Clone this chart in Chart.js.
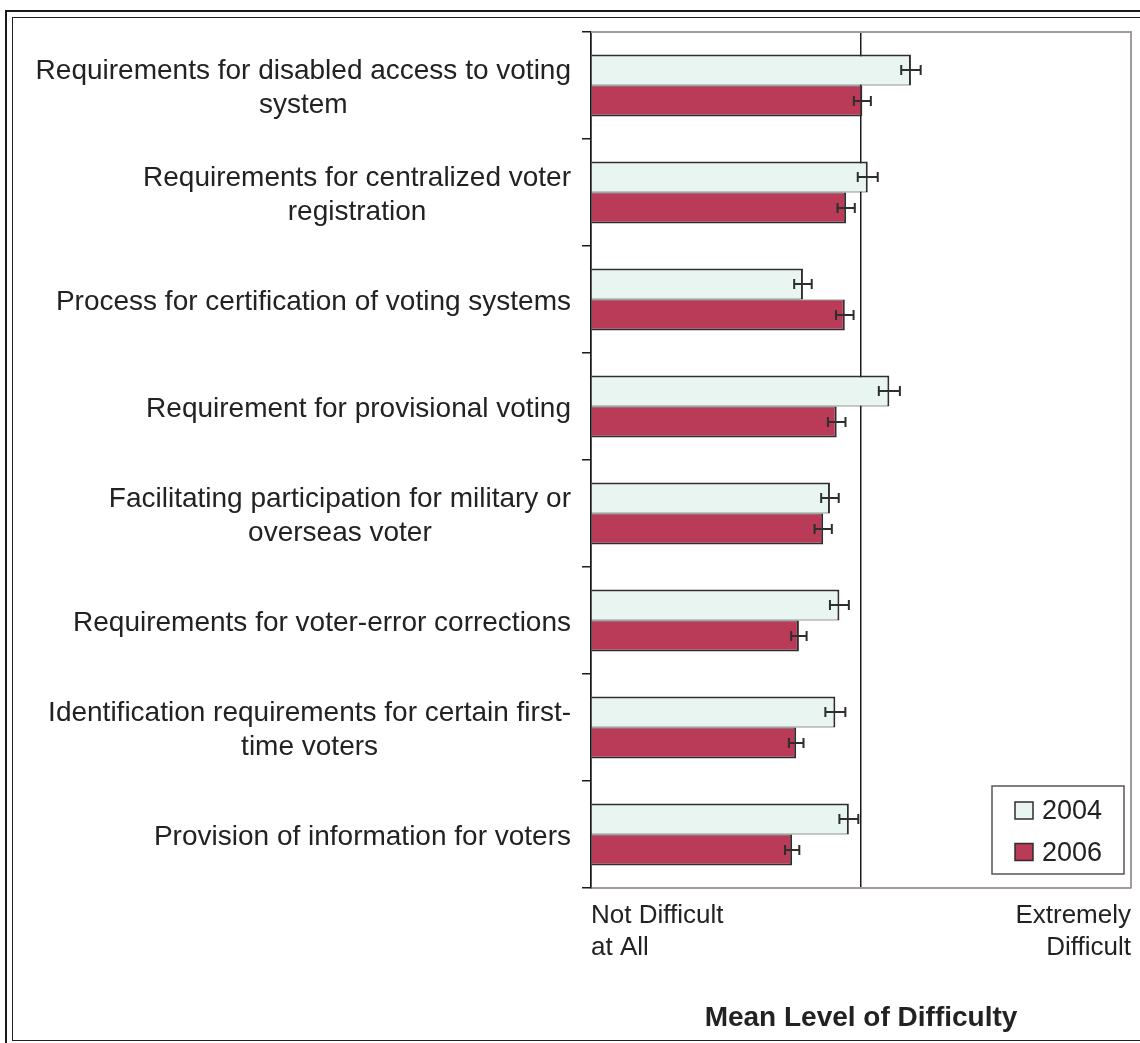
<!DOCTYPE html>
<html lang="en">
  <head>
    <meta charset="UTF-8" />
    <title>Mean Level of Difficulty</title>
    <script src="https://cdn.jsdelivr.net/npm/chart.js"></script>
    <style>
      body { margin: 0; background: #fff; overflow: hidden; }
      #wrap { position: relative; width: 1140px; height: 1043px; overflow: hidden; }
      .outer { position: absolute; left: 5px; top: 10px; width: 1300px; height: 1200px;
               border-left: 2.5px solid #1a1a1a; border-top: 2.5px solid #1a1a1a; }
      .inner { position: absolute; left: 12px; top: 17px; width: 1300px; height: 1022px;
               border-left: 1.5px solid #222; border-top: 1.5px solid #222; border-bottom: 1.5px solid #222; }
      canvas { position: absolute; left: 0; top: 0; }
    </style>
  </head>
  <body>
    <div id="wrap">
      <div class="outer"></div>
      <div class="inner"></div>
      <canvas id="difficultyChart" width="1140" height="1043"></canvas>
    </div>

    <script>
      // categories (each entry = lines of the wrapped label)
      const categories = [
        ["Requirements for disabled access to voting", "system"],
        ["Requirements for centralized voter", "registration"],
        ["Process for certification of voting systems"],
        ["Requirement for provisional voting"],
        ["Facilitating participation for military or", "overseas voter"],
        ["Requirements for voter-error corrections"],
        ["Identification requirements for certain first-", "time voters"],
        ["Provision of information for voters"],
      ];

      const seriesNames = ["2004", "2006"];
      const values2004 = [3.37, 3.05, 2.57, 3.21, 2.77, 2.84, 2.81, 2.91];
      const values2006 = [3.01, 2.89, 2.88, 2.82, 2.72, 2.54, 2.52, 2.49];
      const errors2004 = [0.072, 0.074, 0.065, 0.078, 0.065, 0.07, 0.074, 0.07];
      const errors2006 = [0.063, 0.064, 0.065, 0.065, 0.064, 0.057, 0.054, 0.053];

      const xTickValues = [1, 3, 5];
      const xTickLabels = [["Not Difficult", "at All"], "", ["Extremely", "Difficult"]];
      const xTitle = "Mean Level of Difficulty";

      const FONT = '"Liberation Sans", Arial, sans-serif';
      const TEXT = "#222";
      const FRAME = "#a39a9a";
      const EDGE = "#2e2e2e";

      // error bars, drawn from the bar elements and the x scale
      const errorBars = {
        id: "errorBars",
        afterDatasetsDraw(chart) {
          const ctx = chart.ctx;
          const x = chart.scales.x;
          const errs = [errors2004, errors2006];
          ctx.save();
          ctx.strokeStyle = EDGE;
          ctx.lineWidth = 2;
          chart.data.datasets.forEach((ds, d) => {
            chart.getDatasetMeta(d).data.forEach((bar, i) => {
              const lo = x.getPixelForValue(ds.data[i] - errs[d][i]);
              const hi = x.getPixelForValue(ds.data[i] + errs[d][i]);
              const y = bar.y;
              ctx.beginPath();
              ctx.moveTo(lo, y); ctx.lineTo(hi, y);
              ctx.moveTo(lo, y - 5); ctx.lineTo(lo, y + 5);
              ctx.moveTo(hi, y - 5); ctx.lineTo(hi, y + 5);
              ctx.stroke();
            });
          });
          ctx.restore();
        },
      };

      // wrapped category labels: block right-aligned, lines centred in the block
      const categoryLabels = {
        id: "categoryLabels",
        afterDraw(chart) {
          const ctx = chart.ctx;
          const y = chart.scales.y;
          const right = chart.chartArea.left - 20;
          ctx.save();
          ctx.font = "28px " + FONT;
          ctx.fillStyle = TEXT;
          ctx.textAlign = "center";
          ctx.textBaseline = "alphabetic";
          categories.forEach((lines, i) => {
            const cy = y.getPixelForValue(i);
            const w = Math.max(...lines.map((l) => ctx.measureText(l).width));
            const cx = right - w / 2;
            lines.forEach((line, k) => {
              ctx.fillText(line, cx, cy + 10 + (k - (lines.length - 1) / 2) * 34);
            });
          });
          ctx.restore();
        },
      };

      // grey top/right frame of the plot area
      const plotFrame = {
        id: "plotFrame",
        beforeDatasetsDraw(chart) {
          const { left, right, top, bottom } = chart.chartArea;
          const ctx = chart.ctx;
          ctx.save();
          ctx.strokeStyle = FRAME;
          ctx.lineWidth = 2;
          ctx.beginPath();
          ctx.moveTo(left, top);
          ctx.lineTo(right, top);
          ctx.lineTo(right, bottom);
          ctx.stroke();
          ctx.restore();
        },
      };

      // boxed legend in the lower right corner of the plot
      const boxLegend = {
        id: "boxLegend",
        afterDraw(chart) {
          const ctx = chart.ctx;
          const bx = 992, by = 786, bw = 132, bh = 88;
          ctx.save();
          ctx.fillStyle = "#fff";
          ctx.fillRect(bx, by, bw, bh);
          ctx.strokeStyle = "#555";
          ctx.lineWidth = 1.5;
          ctx.strokeRect(bx, by, bw, bh);
          ctx.font = "27px " + FONT;
          ctx.textBaseline = "alphabetic";
          ctx.textAlign = "left";
          chart.data.datasets.forEach((ds, d) => {
            const sy = by + 16 + d * 41.5;
            ctx.fillStyle = ds.backgroundColor;
            ctx.fillRect(bx + 23, sy, 18, 17);
            ctx.strokeStyle = EDGE;
            ctx.lineWidth = 1.5;
            ctx.strokeRect(bx + 23, sy, 18, 17);
            ctx.fillStyle = TEXT;
            ctx.fillText(ds.label, bx + 50, sy + 17);
          });
          ctx.restore();
        },
      };

      const ctx = document.getElementById("difficultyChart").getContext("2d");
      new Chart(ctx, {
        type: "bar",
        data: {
          labels: categories,
          datasets: [
            {
              label: seriesNames[0],
              data: values2004,
              base: 1,
              backgroundColor: "#e8f5f1",
              borderColor: EDGE,
              borderWidth: { top: 2, right: 2, bottom: 1, left: 0 },
              borderSkipped: false,
              barPercentage: 1,
              categoryPercentage: 0.58,
            },
            {
              label: seriesNames[1],
              data: values2006,
              base: 1,
              backgroundColor: "#b93b58",
              borderColor: EDGE,
              borderWidth: { top: 1, right: 2, bottom: 2, left: 0 },
              borderSkipped: false,
              barPercentage: 1,
              categoryPercentage: 0.58,
            },
          ],
        },
        options: {
          indexAxis: "y",
          responsive: false,
          animation: false,
          layout: { padding: { top: 32, right: 9, left: 0, bottom: 0 } },
          plugins: {
            legend: { display: false },
            tooltip: { enabled: false },
          },
          scales: {
            x: {
              type: "linear",
              min: 1,
              max: 5,
              afterBuildTicks: (scale) => {
                scale.ticks = xTickValues.map((v) => ({ value: v }));
              },
              afterFit: (scale) => {
                scale.height = 155;
                scale.paddingLeft = 0;
                scale.paddingRight = 0;
              },
              ticks: {
                autoSkip: false,
                maxRotation: 0,
                align: "inner",
                padding: 12,
                color: TEXT,
                font: { family: FONT, size: 26, lineHeight: 1.23 },
                callback: (v, i) => xTickLabels[i],
              },
              grid: {
                drawTicks: false,
                color: (c) => (c.tick && c.tick.value === 5 ? FRAME : "#1a1a1a"),
                lineWidth: 1.5,
              },
              border: { color: FRAME, width: 2 },
              title: {
                display: true,
                text: xTitle,
                color: TEXT,
                font: { family: FONT, size: 28, weight: "bold", lineHeight: 1.2 },
                padding: { top: 0, bottom: 8 },
              },
            },
            y: {
              type: "category",
              offset: true,
              afterFit: (scale) => {
                scale.width = 591;
              },
              ticks: { display: false },
              grid: {
                offset: true,
                drawOnChartArea: false,
                tickLength: 9,
                color: "#1a1a1a",
                lineWidth: 1.5,
              },
              border: { color: "#1a1a1a", width: 1.5 },
            },
          },
        },
        plugins: [plotFrame, errorBars, categoryLabels, boxLegend],
      });
    </script>
  </body>
</html>
